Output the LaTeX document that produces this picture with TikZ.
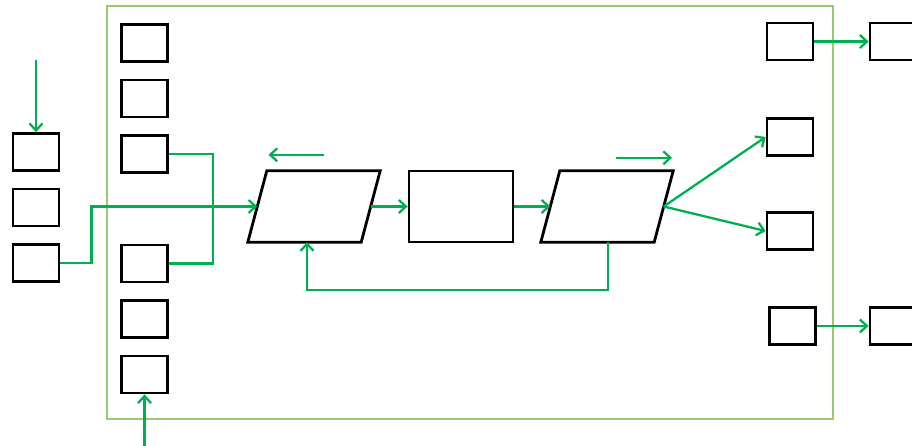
\documentclass[tikz,border=0pt]{standalone}
\usepackage{xcolor}
\usepackage{tikz}
\usetikzlibrary{arrows.meta,positioning}
\definecolor{flowgreen}{RGB}{0,176,80}
\definecolor{framegreen}{RGB}{150,205,110}

\begin{document}
\begin{tikzpicture}[x=1pt,y=-1pt,node distance=55.5pt,
  box node/.style={rectangle,draw,line width=2.8pt,minimum width=46pt,minimum height=37pt,inner sep=0pt},
  para node/.style={rectangle,minimum width=113pt,minimum height=71pt,inner sep=0pt},
  flow/.style={draw=flowgreen,line width=2.3pt,-{Straight Barb[length=7pt,width=13pt]}},
  link/.style={draw=flowgreen,line width=2.3pt}]
  \useasboundingbox (0,0) rectangle (912,446);
  \draw[framegreen,line width=1.2pt] (107,6) rectangle (833,419);

  % outside, left
  \node[box node] (o1) at (36,152) {};
  \node[box node] (o2) [below of=o1] {};
  \node[box node] (o3) [below of=o2] {};

  % inner column
  \node[box node] (i1) at (144.5,43) {};
  \node[box node] (i2) [below of=i1] {};
  \node[box node] (i3) [below of=i2] {};
  \node[box node] (i4) at (144.5,263.5) {};
  \node[box node] (i5) [below of=i4] {};
  \node[box node] (i6) [below of=i5] {};

  % main row
  \node[para node] (p1) at (314,206.5) {};
  \node[box node,minimum width=104pt,minimum height=71pt] (mid) at (461,206.5) {};
  \node[para node] (p2) at (607,206.5) {};
  \foreach \p in {p1,p2}
    \draw[line width=2.8pt] ([xshift=9.5pt]\p.north west) -- ([xshift=9.5pt]\p.north east)
      -- ([xshift=-9.5pt]\p.south east) -- ([xshift=-9.5pt]\p.south west) -- cycle;

  % right column
  \node[box node] (r1) at (790,41.5) {};
  \node[box node] (r2) at (790,137) {};
  \node[box node] (r3) at (790,231) {};
  \node[box node] (r4) at (792.5,326) {};
  \node[box node] (x1) at (893,41.5) {};
  \node[box node] (x4) at (893,326) {};

  \coordinate (inTop) at (36,60);
  \coordinate (inBot) at (144.5,446);

  \path[flow] (inTop) -- (o1.north);
  \path[flow] (inBot) -- (i6.south);
  \path[flow] (o3.east) -- ++(31,0) |- (p1.west);
  \path[link] (i3.east) -- ++(44,0) |- (i4.east);
  \path[flow] (p1.east) -- (mid.west);
  \path[flow] (mid.east) -- (p2.west);
  \path[flow] ([xshift=1pt]p2.south) -- ++(0,48) -| ([xshift=-7pt]p1.south);
  \path[flow] ([xshift=9.5pt,yshift=16pt]p1.north) -- ++(-55,0);
  \path[flow] ([xshift=9pt,yshift=13pt]p2.north) -- ++(56,0);
  \path[flow] (p2.east) -- (r2.west);
  \path[flow] (p2.east) -- (r3.west);
  \path[flow] (r1.east) -- (x1.west);
  \path[flow] (r4.east) -- (x4.west);
\end{tikzpicture}
\end{document}
